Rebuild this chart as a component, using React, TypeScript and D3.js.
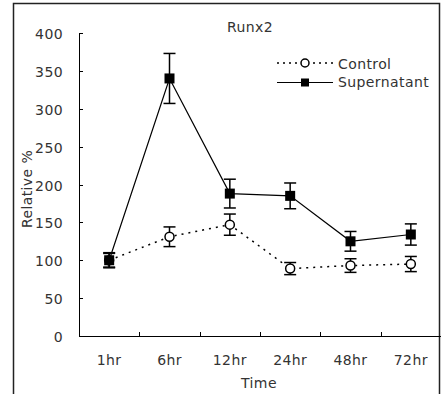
import React, { useEffect, useRef } from 'react';
import * as d3 from 'd3';

const categories = ['1hr', '6hr', '12hr', '24hr', '48hr', '72hr'];
const controlValues = [100, 131, 147, 89, 93, 95];
const controlErrors = [9, 13, 14, 8, 9, 10];
const superValues = [100, 340, 188, 185, 125, 134];
const superErrors = [10, 33, 19, 17, 13, 14];
const yTicks = [0, 50, 100, 150, 200, 250, 300, 350, 400];

const App = () => {
  const svgRef = useRef<SVGSVGElement>(null);

  useEffect(() => {
    const svg = d3.select(svgRef.current);
    svg.selectAll('*').remove();

    const left = 79;
    const right = 441;
    const top = 33;
    const bottom = 336;

    // shared text style, wide thin sans like the original
    const label = (sel: any) =>
      sel
        .style('font-family', 'DejaVu Sans, sans-serif')
        .style('font-size', '14px')
        .style('letter-spacing', '0.4px')
        .attr('fill', '#333');

    // outer frame (no bottom edge)
    svg.append('path')
      .attr('d', 'M13.5,394 V3.5 H439.5 V394')
      .attr('fill', 'none')
      .attr('stroke', '#222')
      .attr('stroke-width', 1.5);

    const x = d3.scaleBand().domain(categories).range([left, right]);
    const y = d3.scaleLinear().domain([0, 400]).range([bottom, top]);

    const g = svg.append('g');

    // y axis
    g.append('line')
      .attr('x1', left + 0.5).attr('x2', left + 0.5)
      .attr('y1', top).attr('y2', bottom)
      .attr('stroke', '#000');
    yTicks.forEach((t) => {
      g.append('line')
        .attr('x1', left).attr('x2', left + 4)
        .attr('y1', Math.round(y(t)) + 0.5).attr('y2', Math.round(y(t)) + 0.5)
        .attr('stroke', '#000');
      g.append('text')
        .attr('x', 63).attr('y', y(t) + 6)
        .attr('text-anchor', 'end')
        .call(label)
        .text(t);
    });

    // x axis
    g.append('line')
      .attr('x1', left).attr('x2', right)
      .attr('y1', bottom + 0.5).attr('y2', bottom + 0.5)
      .attr('stroke', '#000');
    categories.forEach((c, i) => {
      if (i > 0) {
        const xx = Math.round(x(c)!) + 0.5;
        g.append('line')
          .attr('x1', xx).attr('x2', xx)
          .attr('y1', bottom).attr('y2', bottom - 4)
          .attr('stroke', '#000');
      }
      g.append('text')
        .attr('x', x(c)! + x.bandwidth() / 2).attr('y', 365)
        .attr('text-anchor', 'middle')
        .call(label)
        .text(c);
    });

    // axis titles
    g.append('text')
      .attr('x', 259).attr('y', 388)
      .attr('text-anchor', 'middle')
      .call(label)
      .text('Time');
    g.append('text')
      .attr('transform', 'translate(32,189) rotate(-90)')
      .attr('text-anchor', 'middle')
      .call(label)
      .text('Relative %');
    g.append('text')
      .attr('x', 250).attr('y', 32)
      .attr('text-anchor', 'middle')
      .call(label)
      .text('Runx2');

    const cx = (i: number) => x(categories[i])! + x.bandwidth() / 2;
    const line = d3.line<number>().x((_, i) => cx(i)).y((d) => y(d));

    const drawErrors = (vals: number[], errs: number[]) => {
      vals.forEach((v, i) => {
        const xx = cx(i);
        const y1 = y(v + errs[i]);
        const y2 = y(v - errs[i]);
        g.append('line').attr('x1', xx).attr('x2', xx).attr('y1', y1).attr('y2', y2)
          .attr('stroke', '#000').attr('stroke-width', 1.5);
        [y1, y2].forEach((yy) => {
          g.append('line').attr('x1', xx - 6).attr('x2', xx + 6).attr('y1', yy).attr('y2', yy)
            .attr('stroke', '#000').attr('stroke-width', 1.5);
        });
      });
    };

    // control (dotted, open circles)
    g.append('path')
      .attr('d', line(controlValues))
      .attr('fill', 'none').attr('stroke', '#000').attr('stroke-width', 1.5)
      .attr('stroke-dasharray', '2,5');
    drawErrors(controlValues, controlErrors);
    controlValues.forEach((v, i) => {
      g.append('circle').attr('cx', cx(i)).attr('cy', y(v)).attr('r', 4.5)
        .attr('fill', '#fff').attr('stroke', '#000').attr('stroke-width', 1.5);
    });

    // supernatant (solid, filled squares)
    g.append('path')
      .attr('d', line(superValues))
      .attr('fill', 'none').attr('stroke', '#000').attr('stroke-width', 1.2);
    drawErrors(superValues, superErrors);
    superValues.forEach((v, i) => {
      g.append('rect').attr('x', cx(i) - 5).attr('y', y(v) - 5).attr('width', 10).attr('height', 10)
        .attr('fill', '#000');
    });

    // legend
    const lg = svg.append('g');
    lg.append('line').attr('x1', 277).attr('x2', 333).attr('y1', 63).attr('y2', 63)
      .attr('stroke', '#000').attr('stroke-width', 1.5).attr('stroke-dasharray', '2,4');
    lg.append('circle').attr('cx', 305).attr('cy', 63).attr('r', 4)
      .attr('fill', '#fff').attr('stroke', '#000').attr('stroke-width', 1.5);
    lg.append('text').attr('x', 338).attr('y', 69)
      .call(label)
      .text('Control');
    lg.append('line').attr('x1', 277).attr('x2', 333).attr('y1', 82.5).attr('y2', 82.5)
      .attr('stroke', '#000').attr('stroke-width', 1.2);
    lg.append('rect').attr('x', 301).attr('y', 78.5).attr('width', 8).attr('height', 8).attr('fill', '#000');
    lg.append('text').attr('x', 338).attr('y', 87)
      .call(label)
      .text('Supernatant');
  }, []);

  return (
    <div style={{ position: 'absolute', left: 0, top: 0 }}>
      <svg ref={svgRef} width={441} height={394} style={{ display: 'block', background: '#fff' }} />
    </div>
  );
};

export default App;
